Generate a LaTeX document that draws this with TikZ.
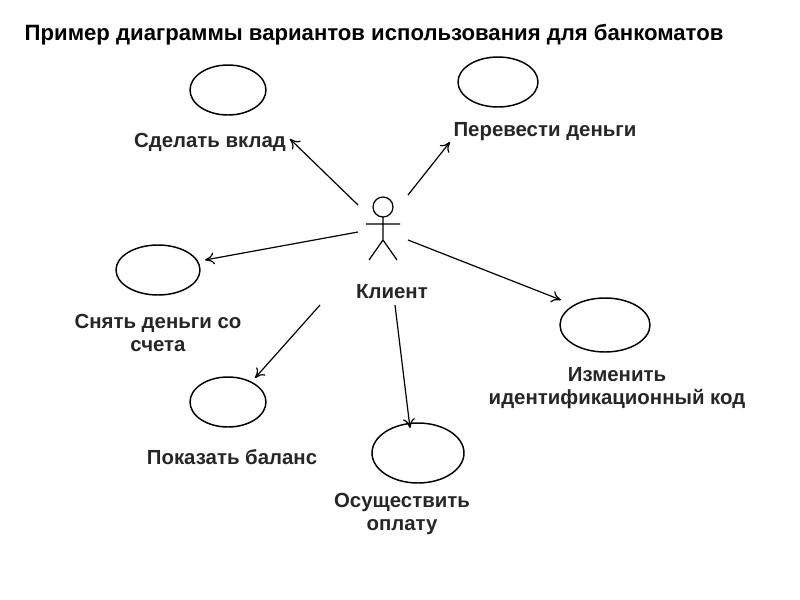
\documentclass[tikz,border=0pt]{standalone}
\usepackage{fontspec}
\setmainfont{Liberation Sans}
\usetikzlibrary{arrows.meta}
\begin{document}
\begin{tikzpicture}[x=0.75pt,y=-0.75pt,
  lbl/.style={font=\bfseries\fontsize{15.3}{17}\selectfont,align=center,text=black!85},
  arr/.style={-{To[length=7pt,width=9pt]},line width=0.9pt}]
\useasboundingbox (0,0) rectangle (800,600);
\node[anchor=west,font=\bfseries\fontsize{16.6}{19}\selectfont] (title) at (20,35) {Пример диаграммы вариантов использования для банкоматов};
\draw[line width=1.1pt] (228,90) ellipse [x radius=38,y radius=25];
\draw[line width=1.1pt] (498,82) ellipse [x radius=40,y radius=25];
\draw[line width=1.1pt] (158,270) ellipse [x radius=42,y radius=25];
\draw[line width=1.1pt] (605,325) ellipse [x radius=45,y radius=27];
\draw[line width=1.1pt] (228,402) ellipse [x radius=38,y radius=25];
\draw[line width=1.1pt] (418,453) ellipse [x radius=46,y radius=30];
\node[lbl] (l1) at (210,142) {Сделать вклад};
\node[lbl] (l2) at (545,132) {Перевести деньги};
\node[lbl] (l3) at (158,333) {Снять деньги со\\счета};
\node[lbl] (l4) at (617,388) {Изменить\\идентификационный код};
\node[lbl] (l5) at (232,457) {Показать баланс};
\node[lbl] (l6) at (402,514) {Осуществить\\оплату};
\node[lbl] (kl) at (392,292) {Клиент};
% actor
\draw[line width=0.9pt] (383,207) circle [radius=10];
\draw[line width=0.9pt] (383,217) -- (383,240) (366,224) -- (400,224)
  (383,240) -- (369,260) (383,240) -- (397,260);
\coordinate (s1) at (358,205); \coordinate (e1) at (290,139);
\coordinate (s2) at (408,195); \coordinate (e2) at (450,142);
\coordinate (s3) at (358,232); \coordinate (e3) at (205,260);
\coordinate (s4) at (408,240); \coordinate (e4) at (561,300);
\coordinate (s5) at (320,305); \coordinate (e5) at (255,378);
\coordinate (s6) at (395,305); \coordinate (e6) at (410,428);
\foreach \i in {1,...,6} \draw[arr] (s\i) -- (e\i);
\end{tikzpicture}
\end{document}
